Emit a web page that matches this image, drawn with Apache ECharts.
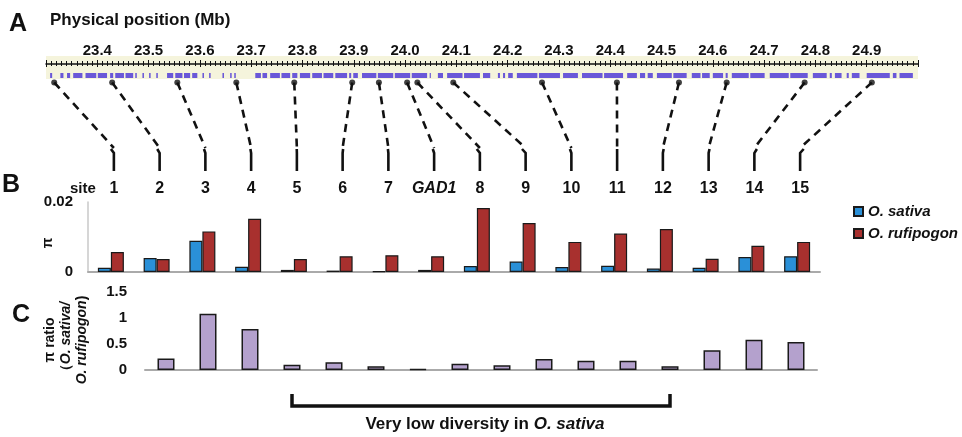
<!DOCTYPE html>
<html>
<head>
<meta charset="utf-8">
<script src="https://cdn.jsdelivr.net/npm/echarts@6/dist/echarts.min.js"></script>
<style>
  html, body { margin: 0; padding: 0; background: #fff; }
  #chart { width: 962px; height: 437px; }
</style>
</head>
<body>
<div id="chart"></div>
<script>
// sites along the chromosome, in order
const sites = ['1', '2', '3', '4', '5', '6', '7', 'GAD1', '8', '9', '10', '11', '12', '13', '14', '15'];
// physical position of each site (Mb)
const sitePosMb = [23.316, 23.429, 23.556, 23.671, 23.784, 23.897, 23.949, 24.004, 24.024, 24.094,
  24.267, 24.413, 24.534, 24.627, 24.779, 24.910];
// nucleotide diversity pi
const piSativa = [0.0012, 0.0040, 0.0089, 0.0015, 0.0006, 0.0004, 0.0002, 0.0006, 0.0017, 0.0030,
  0.0014, 0.0018, 0.0010, 0.0012, 0.0043, 0.0045];
const piRufipogon = [0.0057, 0.0037, 0.0116, 0.0152, 0.0037, 0.0045, 0.0048, 0.0045, 0.0183, 0.0140,
  0.0086, 0.0110, 0.0123, 0.0038, 0.0075, 0.0086];
// pi ratio sativa / rufipogon
const piRatio = [0.22, 1.08, 0.79, 0.10, 0.15, 0.07, 0.015, 0.12, 0.09, 0.21, 0.18, 0.18, 0.07, 0.38, 0.58, 0.54];
// annotated gene blocks on the physical map [start, end] (Mb)
const geneBlocks = [
  [23.308, 23.312], [23.328, 23.334], [23.341, 23.347], [23.353, 23.371], [23.377, 23.398], [23.401, 23.419],
  [23.425, 23.431], [23.435, 23.452], [23.455, 23.470], [23.474, 23.477], [23.488, 23.491], [23.501, 23.504],
  [23.515, 23.518], [23.536, 23.548], [23.552, 23.566], [23.569, 23.581], [23.585, 23.595], [23.605, 23.608],
  [23.618, 23.621], [23.644, 23.647], [23.659, 23.662], [23.667, 23.670], [23.708, 23.719], [23.722, 23.731],
  [23.737, 23.756], [23.759, 23.776], [23.780, 23.790], [23.795, 23.815], [23.819, 23.838], [23.841, 23.860],
  [23.864, 23.887], [23.891, 23.895], [23.899, 23.908], [23.916, 23.944], [23.947, 23.977], [23.980, 24.010],
  [24.013, 24.043], [24.048, 24.050], [24.064, 24.074], [24.082, 24.112], [24.115, 24.146], [24.152, 24.166],
  [24.181, 24.185], [24.191, 24.195], [24.201, 24.210], [24.218, 24.258], [24.261, 24.302], [24.308, 24.337],
  [24.345, 24.385], [24.388, 24.425], [24.433, 24.452], [24.458, 24.468], [24.473, 24.483], [24.491, 24.520],
  [24.523, 24.549], [24.559, 24.576], [24.579, 24.594], [24.600, 24.620], [24.625, 24.629], [24.637, 24.670],
  [24.673, 24.701], [24.711, 24.748], [24.751, 24.785], [24.795, 24.822], [24.828, 24.832], [24.838, 24.851],
  [24.861, 24.865], [24.871, 24.886], [24.900, 24.945], [24.951, 24.958], [24.964, 24.990]
];
const mapMin = 23.3, mapMax = 25.0;

const FONT = 'Arial, "Liberation Sans", sans-serif';
const GENE_TOP = 17, GENE_BOT = 22, DOT_Y = 26.5;   // rows inside the map strip (px from its top)

var chart = echarts.init(document.getElementById('chart'));

let option = {
  animation: false,
  backgroundColor: '#fff',
  textStyle: { fontFamily: FONT },
  grid: [
    { left: 46, right: 44, top: 63, height: 1 },                       // ruler
    { left: 46, right: 44, top: 56, height: 23, show: true, backgroundColor: '#f5f4dc', borderWidth: 0, z: -1 }, // map strip
    { left: 88, right: 142, top: 202, height: 70 },                    // B
    { left: 145, right: 145, top: 292, height: 78 }                    // C
  ],
  xAxis: [
    {
      gridIndex: 0, type: 'value', position: 'top', min: mapMin, max: mapMax, interval: 0.1,
      axisLine: { lineStyle: { color: '#111', width: 1.5 } },
      axisTick: { inside: false, length: 4, lineStyle: { color: '#111', width: 1 } },
      minorTick: { show: true, splitNumber: 10, length: 3, lineStyle: { color: '#111', width: 1 } },
      axisLabel: {
        margin: 5, showMinLabel: false, showMaxLabel: false,
        formatter: v => v.toFixed(1),
        fontSize: 15, fontWeight: 'bold', color: '#111', fontFamily: FONT
      },
      splitLine: { show: false }
    },
    {
      gridIndex: 0, type: 'value', position: 'top', min: mapMin, max: mapMax, interval: 0.1,
      axisLine: { show: false },
      axisTick: { inside: true, length: 4, lineStyle: { color: '#111', width: 1 } },
      minorTick: { show: true, splitNumber: 10, length: 3, lineStyle: { color: '#111', width: 1 } },
      axisLabel: { show: false },
      splitLine: { show: false }
    },
    { gridIndex: 1, type: 'value', min: mapMin, max: mapMax, show: false },
    {
      gridIndex: 2, type: 'category', data: sites, position: 'bottom',
      axisLine: { lineStyle: { color: '#aaa', width: 2 } },
      axisTick: { show: false }, axisLabel: { show: false }
    },
    {
      gridIndex: 2, type: 'category', data: sites, position: 'top',
      axisLine: { show: false }, axisTick: { show: false },
      axisLabel: {
        margin: 5, interval: 0, padding: [0, 0, 0, 6],
        fontSize: 16, fontWeight: 'bold', color: '#111', fontFamily: FONT,
        formatter: v => v === 'GAD1' ? '{it|GAD1}' : v,
        rich: { it: { fontSize: 16, fontWeight: 'bold', fontStyle: 'italic', color: '#111', fontFamily: FONT } }
      }
    },
    {
      gridIndex: 3, type: 'category', data: sites,
      axisLine: { lineStyle: { color: '#aaa', width: 2 } },
      axisTick: { show: false }, axisLabel: { show: false }
    }
  ],
  yAxis: [
    { gridIndex: 0, type: 'value', show: false, min: 0, max: 1 },
    { gridIndex: 1, type: 'value', show: false, min: 0, max: 23, inverse: true },
    {
      gridIndex: 2, type: 'value', min: 0, max: 0.02, interval: 0.02,
      axisLine: { show: true, lineStyle: { color: '#c8c8c8', width: 1.5 } },
      axisTick: { show: false }, splitLine: { show: false },
      axisLabel: { margin: 15, fontSize: 15, fontWeight: 'bold', color: '#111', fontFamily: FONT }
    },
    {
      gridIndex: 3, type: 'value', min: 0, max: 1.5, interval: 0.5,
      axisLine: { show: false }, axisTick: { show: false }, splitLine: { show: false },
      axisLabel: { margin: 18, fontSize: 15, fontWeight: 'bold', color: '#111', fontFamily: FONT }
    }
  ],
  legend: {
    orient: 'vertical', left: 848, top: 199, itemWidth: 9, itemHeight: 9, itemGap: 7,
    icon: 'rect',
    data: ['O. sativa', 'O. rufipogon'],
    textStyle: { fontSize: 15, fontWeight: 'bold', fontStyle: 'italic', color: '#111', fontFamily: FONT }
  },
  series: [
    {
      name: 'genes', type: 'custom', xAxisIndex: 2, yAxisIndex: 1, silent: true,
      data: geneBlocks,
      renderItem: function (params, api) {
        const a = api.coord([api.value(0), GENE_TOP]);
        const b = api.coord([api.value(1), GENE_BOT]);
        return { type: 'rect', shape: { x: a[0], y: a[1], width: Math.max(b[0] - a[0], 1.2), height: b[1] - a[1] },
          style: { fill: '#6a58d8' } };
      }
    },
    {
      name: 'sites', type: 'scatter', xAxisIndex: 2, yAxisIndex: 1, clip: false, silent: true,
      data: sitePosMb.map(p => [p, DOT_Y]), symbolSize: 6, itemStyle: { color: '#111' }
    },
    {
      name: 'O. sativa', type: 'bar', xAxisIndex: 3, yAxisIndex: 2, data: piSativa,
      barWidth: 13, barGap: '0%',
      itemStyle: { color: '#2a90d8', borderColor: '#1a1a1a', borderWidth: 1.2 }
    },
    {
      name: 'O. rufipogon', type: 'bar', xAxisIndex: 3, yAxisIndex: 2, data: piRufipogon,
      barWidth: 13, barGap: '0%',
      itemStyle: { color: '#a8302e', borderColor: '#1a1a1a', borderWidth: 1.2 }
    },
    {
      name: 'ratio', type: 'bar', xAxisIndex: 5, yAxisIndex: 3, data: piRatio,
      barWidth: 17,
      itemStyle: { color: '#b4a1cd', borderColor: '#1a1a1a', borderWidth: 1.5 }
    }
  ]
};
chart.setOption(option);

// overlay: connectors, panel letters, bracket
function drawOverlay() {
  const g = [];
  const ink = '#111';
  sitePosMb.forEach((mb, i) => {
    const p0 = chart.convertToPixel({ gridIndex: 1 }, [mb, DOT_Y]);
    const xs = chart.convertToPixel({ xAxisIndex: 4 }, i) + 3;
    g.push({ type: 'polyline', silent: true, shape: { points: [p0, [xs, 148]] },
      style: { stroke: ink, lineWidth: 2.6, lineDash: [8, 6], fill: null } });
    g.push({ type: 'polyline', silent: true, shape: { points: [[xs + (p0[0] - xs) * 0.05, 149], [xs, 153], [xs, 171]] },
      style: { stroke: ink, lineWidth: 2.6, fill: null } });
  });

  const txt = (text, x, y, size, extra) => Object.assign({
    type: 'text', silent: true, x: x, y: y,
    style: Object.assign({ text: text, fill: ink, font: 'bold ' + size + 'px ' + FONT, verticalAlign: 'middle' }, extra || {})
  });
  g.push(txt('A', 9, 24, 25));
  g.push(txt('Physical position (Mb)', 50, 20, 17));
  g.push(txt('B', 2, 185, 25));
  g.push(txt('site', 70, 189, 15));
  g.push(txt('C', 12, 315, 25));
  g.push(Object.assign(txt('π', 48, 243, 14, { align: 'center' }), { rotation: Math.PI / 2 }));

  // y label of panel C (rotated)
  const rb = { fontSize: 14, fontWeight: 'bold', fontFamily: FONT, fill: ink, lineHeight: 16 };
  const ri = Object.assign({}, rb, { fontStyle: 'italic' });
  g.push({
    type: 'text', silent: true, x: 66, y: 340, rotation: Math.PI / 2,
    style: {
      text: '{n|π ratio}\n{n|（}{i|O. sativa/}\n{i|O. rufipogon}{n|)}',
      rich: { n: rb, i: ri }, align: 'center', verticalAlign: 'middle', fill: ink
    }
  });

  // bracket under sites 4..12 in panel C
  const x1 = chart.convertToPixel({ xAxisIndex: 5 }, 3);
  const x2 = chart.convertToPixel({ xAxisIndex: 5 }, 12);
  g.push({ type: 'polyline', silent: true,
    shape: { points: [[x1, 394], [x1, 406], [x2, 406], [x2, 394]] },
    style: { stroke: ink, lineWidth: 3.5, fill: null } });
  g.push({
    type: 'text', silent: true, x: (x1 + x2) / 2 + 4, y: 424,
    style: {
      text: '{n|Very low diversity in }{i|O. sativa}',
      rich: {
        n: { fontSize: 17, fontWeight: 'bold', fontFamily: FONT, fill: ink },
        i: { fontSize: 17, fontWeight: 'bold', fontStyle: 'italic', fontFamily: FONT, fill: ink }
      },
      align: 'center', verticalAlign: 'middle'
    }
  });
  chart.setOption({ graphic: g });
}
drawOverlay();
</script>
</body>
</html>
